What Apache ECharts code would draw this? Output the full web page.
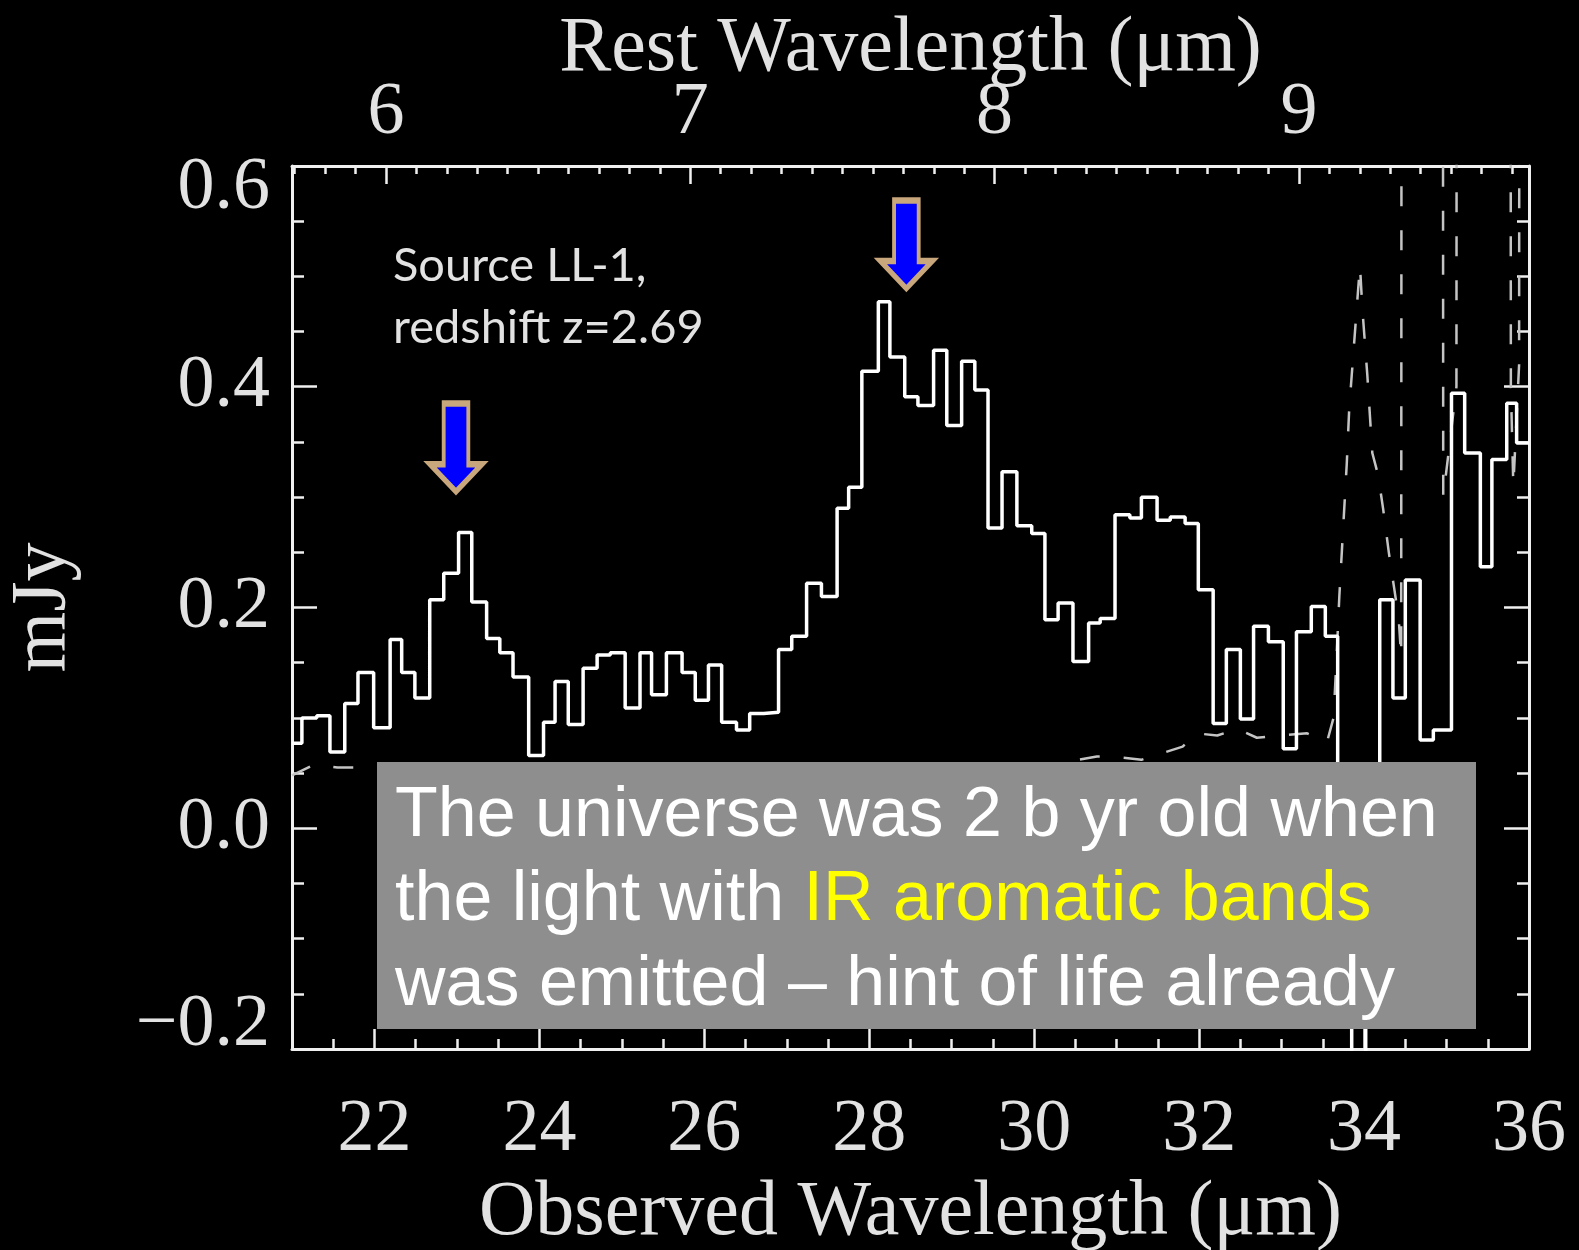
<!DOCTYPE html>
<html>
<head>
<meta charset="utf-8">
<script src="https://cdn.jsdelivr.net/npm/echarts@6.0.0/dist/echarts.min.js"></script>
<style>
  html, body { margin: 0; padding: 0; background: #000; }
  #chart { width: 1579px; height: 1250px; }
</style>
</head>
<body>
<div id="chart"></div>
<script>
// source LL-1
var redshift = 2.69

// spectral bins (observed wavelength, um): left edges, last value closes the final bin
var binEdges = [
  21.00, 21.12, 21.30, 21.46, 21.64, 21.80, 21.99, 22.19, 22.33, 22.49,
  22.67, 22.84, 23.02, 23.18, 23.36, 23.52, 23.68, 23.87, 24.05, 24.19,
  24.35, 24.53, 24.70, 24.86, 25.04, 25.22, 25.36, 25.54, 25.73, 25.89,
  26.05, 26.21, 26.39, 26.55, 26.72, 26.90, 27.06, 27.24, 27.42, 27.61,
  27.75, 27.91, 28.11, 28.25, 28.43, 28.59, 28.78, 28.94, 29.12, 29.28,
  29.44, 29.61, 29.79, 29.97, 30.13, 30.29, 30.47, 30.66, 30.80, 30.98,
  31.16, 31.30, 31.49, 31.65, 31.83, 31.99, 32.17, 32.33, 32.50, 32.66,
  32.84, 33.02, 33.18, 33.36, 33.53, 33.68, 33.85, 34.02, 34.19, 34.35,
  34.50, 34.68, 34.84, 35.06, 35.22, 35.41, 35.55, 35.73, 35.85, 36.00
]
// flux in each bin (mJy)
var flux = [
  0.077, 0.100, 0.102, 0.069, 0.113, 0.141, 0.091, 0.171, 0.141, 0.118,
  0.207, 0.231, 0.268, 0.205, 0.172, 0.159, 0.137, 0.066, 0.096, 0.133,
  0.094, 0.145, 0.157, 0.159, 0.109, 0.159, 0.121, 0.159, 0.141, 0.116,
  0.148, 0.096, 0.089, 0.104, 0.105, 0.162, 0.174, 0.222, 0.210, 0.290,
  0.309, 0.414, 0.477, 0.427, 0.391, 0.383, 0.433, 0.365, 0.423, 0.397,
  0.272, 0.323, 0.274, 0.267, 0.189, 0.204, 0.151, 0.186, 0.190, 0.284,
  0.281, 0.300, 0.279, 0.282, 0.276, 0.216, 0.095, 0.162, 0.099, 0.183,
  0.169, 0.072, 0.178, 0.201, 0.174, 0.020, -0.300, 0.030, 0.207, 0.118,
  0.225, 0.080, 0.089, 0.394, 0.340, 0.237, 0.334, 0.385, 0.349
]

// dashed curve (noise level)
var noiseWave = [
  21.00, 21.28, 21.55, 21.82, 22.50, 24.00, 26.00, 28.00, 30.00, 30.76,
  30.94, 31.30, 31.80, 31.97, 32.22, 32.46, 32.70, 32.98, 33.31, 33.55,
  33.63, 33.67, 33.70, 33.73, 33.76, 33.79, 33.82, 33.86, 33.91, 33.95,
  33.98, 34.04, 34.10, 34.17, 34.23, 34.30, 34.36, 34.42, 34.45, 34.46,
  34.95, 34.96, 35.12, 35.13, 35.77, 35.78, 35.81, 35.88, 35.89, 36.00
]
var noiseFlux = [
  0.048, 0.058, 0.055, 0.055, 0.050, 0.045, 0.050, 0.050, 0.055, 0.065,
  0.065, 0.062, 0.074, 0.086, 0.084, 0.090, 0.082, 0.084, 0.086, 0.078,
  0.100, 0.160, 0.210, 0.250, 0.290, 0.330, 0.380, 0.420, 0.470, 0.510,
  0.470, 0.410, 0.340, 0.320, 0.290, 0.250, 0.220, 0.190, 0.155, 1.500,
  1.500, 0.300, 0.400, 1.500, 1.500, 0.400, 0.310, 0.420, 1.500, 1.500
]

var obsTickLabels = [22, 24, 26, 28, 30, 32, 34, 36]
var restTickLabels = [6, 7, 8, 9]
// aromatic bands marked by arrows (rest um) and the flux at the arrow tips
var bandRest = [6.23, 7.71]
var arrowTipFlux = [0.305, 0.489]

var myChart = echarts.init(document.getElementById('chart'))

var stepData = []
for (var i = 0; i < flux.length; i++) {
  stepData.push([binEdges[i], flux[i]])
}
stepData.push([binEdges[binEdges.length - 1], flux[flux.length - 1]])

var noiseData = noiseWave.map(function (w, i) { return [w, noiseFlux[i]] })

var restMin = 21 / (1 + redshift)
var restMax = 36 / (1 + redshift)
var restMinor = []
for (var t = 57; t <= 97; t++) restMinor.push(t / 10)

var frameColor = '#f0f0f0'
var tickStyle = { color: frameColor, width: 2.5 }
var lineStyle = { color: frameColor, width: 3 }
var serif = 'Liberation Serif, Times New Roman, serif'
var labelStyle = { color: '#e2e2e2', fontFamily: serif, fontSize: 74 }
var nameStyle = { color: '#e2e2e2', fontFamily: serif, fontSize: 78 }

function yFormat (v) {
  if (Math.abs(v) < 1e-9) return '0.0'
  var s = Math.abs(v).toFixed(1)
  return v < 0 ? '\u2212' + s : s
}

var arrowPath = 'path://M15,0 L42,0 L42,64 L57,64 L28.5,93 L0,64 L15,64 Z'

myChart.setOption({
  backgroundColor: '#000',
  animation: false,
  grid: { left: 292, right: 50, top: 166, bottom: 201, containLabel: false, outerBoundsMode: 'none' },
  xAxis: [
    {
      type: 'value', position: 'bottom', min: 21, max: 36, interval: 0.5,
      axisLine: { show: true, onZero: false, lineStyle: lineStyle },
      axisTick: { show: true, inside: true, length: 10, lineStyle: tickStyle },
      axisLabel: { show: false },
      splitLine: { show: false }
    },
    {
      type: 'value', position: 'bottom', min: 21, max: 36,
      axisLine: { show: false, onZero: false },
      axisTick: { show: true, inside: true, length: 20, customValues: obsTickLabels, lineStyle: tickStyle },
      axisLabel: Object.assign({ show: true, margin: 45, customValues: obsTickLabels, showMinLabel: true, showMaxLabel: true }, labelStyle),
      splitLine: { show: false },
      name: 'Observed Wavelength (\u03bcm)',
      nameLocation: 'middle',
      nameGap: 126,
      nameTextStyle: nameStyle
    },
    {
      type: 'value', position: 'top', min: restMin, max: restMax,
      axisLine: { show: true, onZero: false, lineStyle: lineStyle },
      axisTick: { show: true, inside: true, length: 8, customValues: restMinor, lineStyle: tickStyle },
      axisLabel: { show: false },
      splitLine: { show: false }
    },
    {
      type: 'value', position: 'top', min: restMin, max: restMax,
      axisLine: { show: false, onZero: false },
      axisTick: { show: true, inside: true, length: 18, customValues: restTickLabels, lineStyle: tickStyle },
      axisLabel: Object.assign({ show: true, margin: 15, customValues: restTickLabels }, labelStyle),
      splitLine: { show: false },
      name: 'Rest Wavelength (\u03bcm)',
      nameLocation: 'middle',
      nameGap: 77,
      nameMoveOverlap: false,
      nameTextStyle: nameStyle
    }
  ],
  yAxis: [
    {
      type: 'value', position: 'left', min: -0.2, max: 0.6, interval: 0.05,
      axisLine: { show: true, onZero: false, lineStyle: lineStyle },
      axisTick: { show: true, inside: true, length: 12, lineStyle: tickStyle },
      axisLabel: { show: false },
      splitLine: { show: false }
    },
    {
      type: 'value', position: 'left', min: -0.2, max: 0.6, interval: 0.2,
      axisLine: { show: false, onZero: false },
      axisTick: { show: true, inside: true, length: 25, lineStyle: tickStyle },
      axisLabel: Object.assign({
        show: true, margin: 22, formatter: yFormat, showMinLabel: true, showMaxLabel: true,
        lineHeight: 46, verticalAlignMinLabel: 'bottom', verticalAlignMaxLabel: 'top'
      }, labelStyle),
      splitLine: { show: false },
      name: 'mJy',
      nameLocation: 'middle',
      nameGap: 209,
      nameTextStyle: nameStyle
    },
    {
      type: 'value', position: 'right', min: -0.2, max: 0.6, interval: 0.05,
      axisLine: { show: true, onZero: false, lineStyle: lineStyle },
      axisTick: { show: true, inside: true, length: 12, lineStyle: tickStyle },
      axisLabel: { show: false },
      splitLine: { show: false }
    },
    {
      type: 'value', position: 'right', min: -0.2, max: 0.6, interval: 0.2,
      axisLine: { show: false, onZero: false },
      axisTick: { show: true, inside: true, length: 25, lineStyle: tickStyle },
      axisLabel: { show: false },
      splitLine: { show: false }
    }
  ],
  series: [
    {
      name: 'noise',
      type: 'line',
      xAxisIndex: 0,
      yAxisIndex: 0,
      data: noiseData,
      symbol: 'none',
      clip: true,
      lineStyle: { color: '#c4c4c4', width: 2.5, type: [20, 24] },
      z: 2
    },
    {
      name: 'LL-1',
      type: 'line',
      xAxisIndex: 0,
      yAxisIndex: 0,
      data: stepData,
      step: 'end',
      symbol: 'none',
      clip: true,
      lineStyle: { color: '#ffffff', width: 3.5 },
      z: 3,
      markPoint: {
        silent: true,
        symbol: arrowPath,
        symbolSize: [52, 88],
        symbolOffset: [0, '-50%'],
        itemStyle: { color: '#0000ff', borderColor: '#c9a77c', borderWidth: 5 },
        label: { show: false },
        data: bandRest.map(function (r, i) {
          return { coord: [r * (1 + redshift), arrowTipFlux[i]] }
        })
      }
    }
  ],
  graphic: [
    {
      type: 'text',
      x: 393,
      y: 235,
      z: 50,
      style: {
        text: 'Source LL-1,\nredshift z=2.69',
        fill: '#e2e2e2',
        fontFamily: 'Lato, Open Sans, sans-serif',
        fontSize: 47,
        lineHeight: 62,
        verticalAlign: 'top'
      }
    },
    {
      type: 'rect',
      z: 100,
      shape: { x: 377, y: 762, width: 1099, height: 267 },
      style: { fill: '#8e8e8e' }
    },
    {
      type: 'text',
      x: 395,
      y: 774,
      z: 101,
      style: {
        text: 'The universe was 2 b yr old when\nthe light with {hl|IR aromatic bands}\nwas emitted \u2013 hint of life already',
        fill: '#ffffff',
        fontFamily: 'Liberation Sans, Arial, sans-serif',
        fontSize: 70,
        lineHeight: 84.5,
        verticalAlign: 'top',
        rich: {
          hl: {
            fill: '#ffff00',
            fontFamily: 'Liberation Sans, Arial, sans-serif',
            fontSize: 70,
            lineHeight: 84.5
          }
        }
      }
    }
  ]
})
</script>
</body>
</html>
